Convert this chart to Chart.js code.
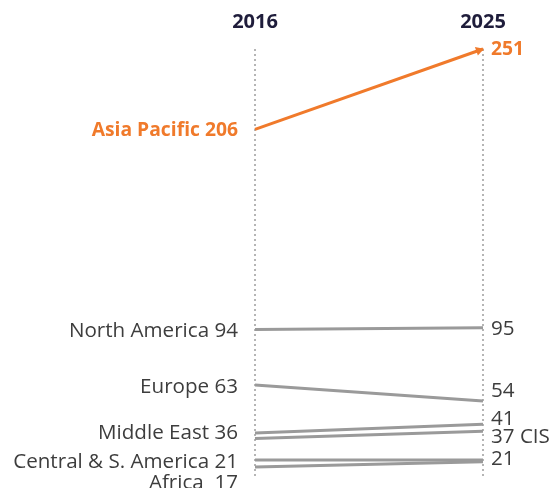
<!DOCTYPE html>
<html lang="en">
<head>
    <meta charset="UTF-8">
    <title>Regions 2016 vs 2025</title>
    <script src="https://cdn.jsdelivr.net/npm/chart.js"></script>
    <style>
        body {
            margin: 0;
            background: #fff;
        }
        .wrap {
            width: 551px;
            height: 488px;
            position: relative;
        }
    </style>
</head>
<body>

    <div class="wrap">
        <canvas id="chart"></canvas>
    </div>

    <script>
        const years = [2016, 2025];
        const regions = ['Asia Pacific', 'North America', 'Europe', 'Middle East', 'CIS', 'Central & S. America', 'Africa'];
        const values2016 = [206, 94, 63, 36, 33, 21, 17];
        const values2025 = [251, 95, 54, 41, 37, 21, 20];
        const leftLabels = ['Asia Pacific 206', 'North America 94', 'Europe 63', 'Middle East 36', null, 'Central & S. America 21', 'Africa  17'];
        const rightLabels = ['251', '95', '54', '41', '37 CIS', '21', null];

        const orange = '#f07a2b';
        const grey = '#9a9a9a';
        const textGrey = '#3d3d3d';

        // small vertical nudges so the labels don't sit on top of each other
        const leftNudge = [1, 2, 2, 0, 0, 2, 16];
        const rightNudge = [1, 1, -10, -5, 6, -1, 0];

        const labelsPlugin = {
            id: 'slopeLabels',
            afterDatasetsDraw(chart) {
                const ctx = chart.ctx;
                const xs = chart.scales.x;
                const ys = chart.scales.y;
                const x0 = xs.getPixelForValue(years[0]);
                const x1 = xs.getPixelForValue(years[1]);

                // arrow head on the highlighted line
                const pts = chart.getDatasetMeta(0).data;
                const a = Math.atan2(pts[1].y - pts[0].y, pts[1].x - pts[0].x);
                ctx.save();
                ctx.fillStyle = orange;
                ctx.translate(pts[1].x, pts[1].y);
                ctx.rotate(a);
                ctx.beginPath();
                ctx.moveTo(1, 0);
                ctx.lineTo(-7, -4.5);
                ctx.lineTo(-7, 4.5);
                ctx.closePath();
                ctx.fill();
                ctx.restore();

                ctx.save();
                ctx.textBaseline = 'middle';

                // year headings
                ctx.textAlign = 'center';
                ctx.fillStyle = '#1f1d3b';
                ctx.font = 'bold 20px "Open Sans", sans-serif';
                ctx.fillText(String(years[0]), x0, 22);
                ctx.fillText(String(years[1]), x1, 22);

                regions.forEach((r, i) => {
                    const hi = i === 0;
                    ctx.fillStyle = hi ? orange : textGrey;
                    ctx.font = hi ? 'bold 19.3px "Open Sans", sans-serif' : '20.6px "Open Sans", sans-serif';
                    if (leftLabels[i]) {
                        ctx.textAlign = 'right';
                        ctx.fillText(leftLabels[i], x0 - 17, ys.getPixelForValue(values2016[i]) + leftNudge[i]);
                    }
                    if (rightLabels[i]) {
                        ctx.textAlign = 'left';
                        ctx.fillText(rightLabels[i], x1 + 8, ys.getPixelForValue(values2025[i]) + rightNudge[i]);
                    }
                });
                ctx.restore();
            }
        };

        const datasets = regions.map((r, i) => ({
            label: r,
            data: [
                { x: years[0], y: values2016[i] },
                { x: years[1], y: values2025[i] }
            ],
            borderColor: i === 0 ? orange : grey,
            borderWidth: 3,
            pointRadius: 0,
            clip: false,
            order: i === 0 ? 0 : 1
        }));

        new Chart(document.getElementById('chart'), {
            type: 'line',
            data: { datasets: datasets },
            options: {
                responsive: true,
                maintainAspectRatio: false,
                animation: false,
                layout: {
                    padding: { left: 255, right: 68, top: 49, bottom: 12 }
                },
                plugins: {
                    legend: { display: false },
                    tooltip: { enabled: false }
                },
                scales: {
                    x: {
                        type: 'linear',
                        position: 'top',
                        min: years[0],
                        max: years[1],
                        afterBuildTicks: (scale) => {
                            scale.ticks = years.map(v => ({ value: v }));
                        },
                        ticks: { display: false },
                        grid: {
                            color: '#b5b5b5',
                            lineWidth: 2,
                            drawTicks: false
                        },
                        border: { display: false, dash: [2, 3] }
                    },
                    y: {
                        display: false,
                        min: 12,
                        max: 251
                    }
                }
            },
            plugins: [labelsPlugin]
        });
    </script>

</body>
</html>
